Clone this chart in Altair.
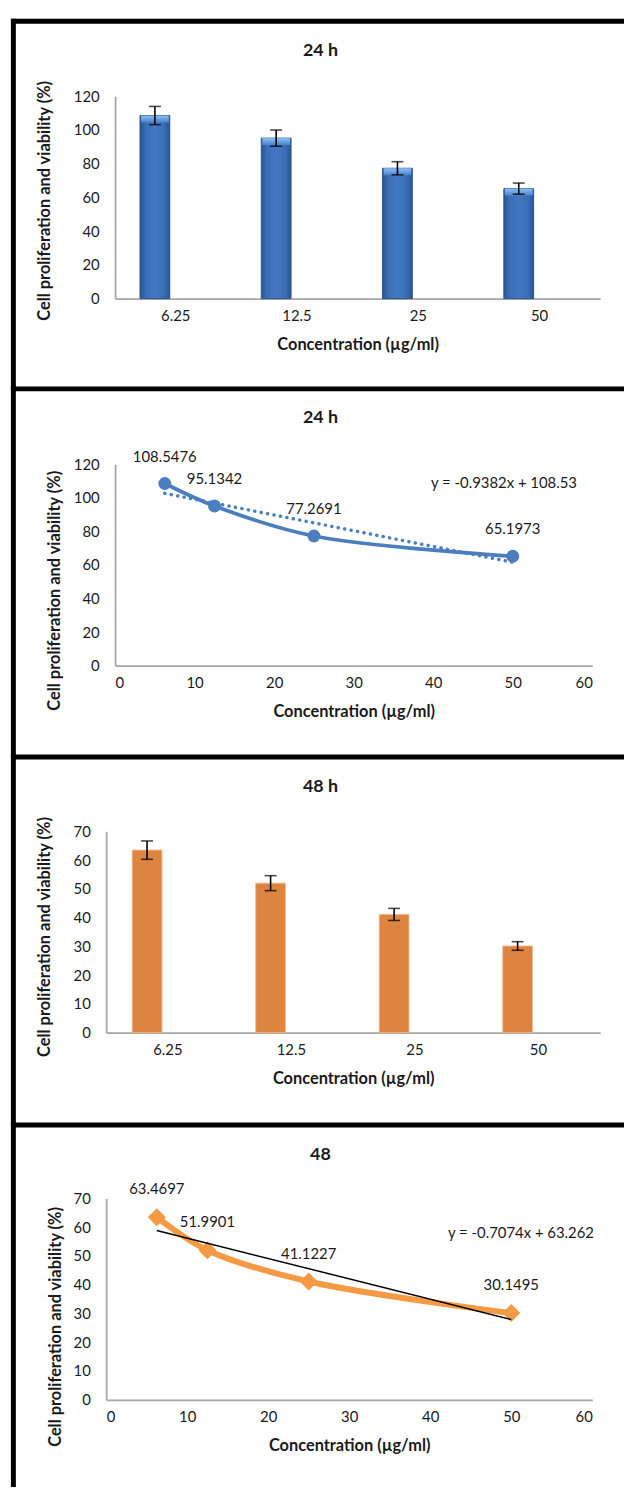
import altair as alt
import pandas as pd

FONT = "Lato"
TEXT_COLOR = "#1a1a1a"
AXIS_GREY = "#a6a6a6"

# ---- data -------------------------------------------------------------
conc_labels = ["6.25", "12.5", "25", "50"]
conc_values = [6.25, 12.5, 25, 50]

viab_24h = [108.5476, 95.1342, 77.2691, 65.1973]
err_24h = [5.4, 4.8, 3.9, 3.3]

viab_48h = [63.4697, 51.9901, 41.1227, 30.1495]
err_48h = [3.2, 2.6, 2.1, 1.5]

eq_24h = ["y = -0.9382x + 108.53"]
eq_24h_pos = [(48.9, 108.8)]
eq_48h = ["y = -0.7074x + 63.262"]
eq_48h_pos = [(51.2, 57.9)]

panel_titles = ["24 h", "24 h", "48 h", "48"]

# ---- layout constants (pixels) -----------------------------------------
PLOT_LEFT = 104
panel_tops = [88, 459, 829, 1199]
panel_heights = [204, 203, 203, 203]
divider_y = [12.5, 383, 754, 1125]
frame_bottom = 1490
frame_left = 10.5
frame_right = 626
title_y = [42, 412, 784, 1155]
title_x = 320
SPACING = 167

Y_TITLE = "Cell proliferation and viability (%)"
X_TITLE = "Concentration (µg/ml)"
TITLE_SIZE = 16.5


def y_axis(values, offset, title_pad, title_y_rel):
    return alt.Axis(
        title=Y_TITLE, values=values, offset=offset, grid=False, ticks=False,
        domainColor=AXIS_GREY, domainWidth=1.8, labelPadding=16,
        labelFont=FONT, labelFontSize=15, labelColor=TEXT_COLOR,
        titleFont=FONT, titleFontSize=TITLE_SIZE, titleFontWeight="bold",
        titleColor=TEXT_COLOR, titlePadding=title_pad, titleY=title_y_rel,
    )


def x_axis(values=None):
    kw = dict(
        title=X_TITLE, grid=False, ticks=False, labelAngle=0,
        domainColor=AXIS_GREY, domainWidth=1.8, labelPadding=10,
        labelFont=FONT, labelFontSize=15, labelColor=TEXT_COLOR,
        titleFont=FONT, titleFontSize=TITLE_SIZE, titleFontWeight="bold",
        titleColor=TEXT_COLOR, titlePadding=13,
    )
    if values is not None:
        kw["values"] = values
    return alt.Axis(**kw)


def decorations(i):
    """Panel title and the black frame segments around panel i."""
    top = panel_tops[i]
    one = pd.DataFrame({"t": [panel_titles[i]]})
    title = alt.Chart(one).mark_text(
        font=FONT, fontSize=18, fontWeight="bold", color=TEXT_COLOR,
        align="center", baseline="middle",
    ).encode(text="t:N", x=alt.value(title_x - PLOT_LEFT), y=alt.value(title_y[i] - top))
    hline = alt.Chart(one).mark_rule(color="black", strokeWidth=5, strokeCap="butt").encode(
        x=alt.value(frame_left - 2.5 - PLOT_LEFT), x2=alt.value(frame_right - PLOT_LEFT),
        y=alt.value(divider_y[i] - top),
    )
    next_y = divider_y[i + 1] if i + 1 < len(divider_y) else frame_bottom
    vline = alt.Chart(one).mark_rule(color="black", strokeWidth=5, strokeCap="butt").encode(
        x=alt.value(frame_left - PLOT_LEFT),
        y=alt.value(divider_y[i] - 2.5 - top), y2=alt.value(next_y - top),
    )
    return [hline, vline, title]


# ---- bar panels ---------------------------------------------------------
def bar_panel(i, values, errs, ymax, ystep, x_range, y_offset, fill, top_fill, stroke,
              title_pad, title_y_rel, width):
    df = pd.DataFrame({
        "conc": conc_labels,
        "v": values,
        "lo": [v - e for v, e in zip(values, errs)],
        "hi": [v + e for v, e in zip(values, errs)],
    })
    yvals = list(range(0, ymax + 1, ystep))
    ysc = alt.Scale(domain=[0, ymax], nice=False)
    xenc = alt.X("conc:N", sort=conc_labels,
                 scale=alt.Scale(range=x_range, paddingInner=0, paddingOuter=0),
                 axis=x_axis(), title=X_TITLE)
    yax = y_axis(yvals, y_offset, title_pad, title_y_rel)
    base = alt.Chart(df)
    bars = base.mark_bar(width=30, xOffset=-21, fill=fill, stroke=stroke, strokeWidth=1).encode(
        x=xenc, y=alt.Y("v:Q", scale=ysc, axis=yax, title=Y_TITLE))
    layers = [bars]
    if top_fill is not None:
        bevel = base.mark_bar(width=28, xOffset=-21, y2Offset=7, fill=top_fill).encode(
            x=xenc, y=alt.Y("v:Q", scale=ysc, axis=yax, title=Y_TITLE), y2="v:Q")
        layers.append(bevel)
    err = base.mark_rule(xOffset=-21, color="black", strokeWidth=1.6).encode(
        x=xenc, y=alt.Y("lo:Q", scale=ysc, axis=yax, title=Y_TITLE), y2="hi:Q")
    cap_hi = base.mark_tick(xOffset=-21, color="black", size=12, thickness=1.6).encode(
        x=xenc, y=alt.Y("hi:Q", scale=ysc, axis=yax, title=Y_TITLE))
    cap_lo = base.mark_tick(xOffset=-21, color="black", size=12, thickness=1.6).encode(
        x=xenc, y=alt.Y("lo:Q", scale=ysc, axis=yax, title=Y_TITLE))
    layers += [err, cap_hi, cap_lo]
    return alt.layer(*layers, *decorations(i)).properties(width=width, height=panel_heights[i])


# ---- scatter / trend panels ----------------------------------------------
def line_panel(i, values, ymax, ystep, x_range, y_offset, color, shape, size, line_w,
               trend_style, trend_on_top, eq_text, eq_pos, label_dy, title_pad,
               title_y_rel, width):
    df = pd.DataFrame({"c": conc_values, "v": values})
    yvals = list(range(0, ymax + 1, ystep))
    ysc = alt.Scale(domain=[0, ymax], nice=False)
    xsc = alt.Scale(domain=[0, 60], range=x_range, nice=False)
    xax = x_axis(values=list(range(0, 61, 10)))
    yax = y_axis(yvals, y_offset, title_pad, title_y_rel)
    xenc = alt.X("c:Q", scale=xsc, axis=xax, title=X_TITLE)
    yenc = alt.Y("v:Q", scale=ysc, axis=yax, title=Y_TITLE)
    base = alt.Chart(df)
    line = base.mark_line(interpolate="catmull-rom", color=color, strokeWidth=line_w,
                          strokeCap="round").encode(x=xenc, y=yenc)
    pts = base.mark_point(shape=shape, filled=True, opacity=1, color=color, size=size).encode(
        x=xenc, y=yenc)
    trend = base.transform_regression("c", "v").mark_line(**trend_style).encode(x=xenc, y=yenc)
    labels = base.mark_text(font=FONT, fontSize=15, color=TEXT_COLOR, dy=label_dy,
                            align="center", baseline="middle").encode(
        x=xenc, y=yenc, text=alt.Text("v:Q", format=".4f"))
    eq_df = pd.DataFrame({"c": [p[0] for p in eq_pos], "v": [p[1] for p in eq_pos], "t": eq_text})
    eq = alt.Chart(eq_df).mark_text(font=FONT, fontSize=15, color=TEXT_COLOR,
                                    align="center", baseline="middle").encode(
        x=xenc, y=yenc, text="t:N")
    layers = [line, pts, trend] if trend_on_top else [trend, line, pts]
    return alt.layer(*layers, labels, eq, *decorations(i)).properties(
        width=width, height=panel_heights[i])


blue_grad = alt.Gradient(
    gradient="linear", x1=0, x2=1, y1=0, y2=0,
    stops=[alt.GradientStop(color="#2a548e", offset=0),
           alt.GradientStop(color="#3a6db4", offset=0.18),
           alt.GradientStop(color="#4279c4", offset=0.5),
           alt.GradientStop(color="#3a6db4", offset=0.82),
           alt.GradientStop(color="#2a548e", offset=1)],
)
blue_top = alt.Gradient(
    gradient="linear", x1=0, x2=0, y1=0, y2=1,
    stops=[alt.GradientStop(color="#8cc0f4", offset=0),
           alt.GradientStop(color="#4a82cc", offset=1)],
)

p1 = bar_panel(0, viab_24h, err_24h, 120, 20, [9, 498], -9, blue_grad, blue_top, "#2a548e",
               21, 105, 498)
p2 = line_panel(1, viab_24h, 120, 20, [9, 490], -9, "#4a7ebf", "circle", 169, 3.8,
                dict(color="#4a7ebf", strokeWidth=3.5, strokeDash=[0.1, 6.5], strokeCap="round"),
                False, eq_24h, eq_24h_pos, -27, 11, 127, 490)
p3 = bar_panel(2, viab_48h, err_48h, 70, 10, [0, 498], 0, "#dd8440", None, "#f3b889",
               21, 106, 498)
p4 = line_panel(3, viab_48h, 70, 10, [0, 490], 0, "#f49a45", "diamond", 330, 6,
                dict(color="black", strokeWidth=1.5), True,
                eq_48h, eq_48h_pos, -28, 10, 129, 490)

chart = alt.vconcat(p1, p2, p3, p4, spacing=SPACING, bounds="flush").properties(
    padding={"left": 8, "top": 10, "right": 0, "bottom": 0},
    background="white",
).configure_view(strokeWidth=0)

chart.save("out.html", embed_options={"renderer": "svg", "actions": False})
